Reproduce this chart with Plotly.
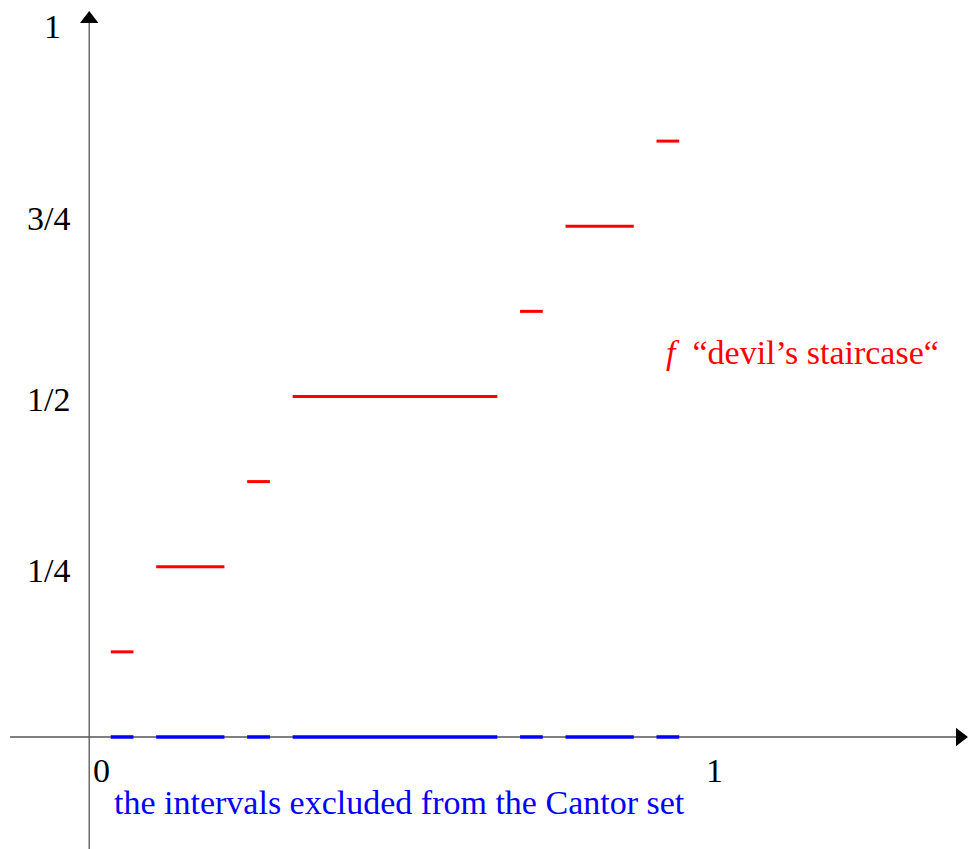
import plotly.graph_objects as go

# Data: intervals removed from [0,1] in the first three steps of the Cantor construction
interval_start = [1/27, 3/27, 7/27, 9/27, 19/27, 21/27, 25/27]
interval_end = [2/27, 6/27, 8/27, 18/27, 20/27, 24/27, 26/27]
staircase_value = [1/8, 2/8, 3/8, 4/8, 5/8, 6/8, 7/8]
y_tick_values = [1/4, 1/2, 3/4]
y_tick_labels = ["1/4", "1/2", "3/4"]

FONT = "Liberation Serif"
FS = 34

def seg_xy(starts, ends, ys):
    xs, yy = [], []
    for a, b, y in zip(starts, ends, ys):
        xs += [a, b, None]
        yy += [y, y, None]
    return xs, yy

fig = go.Figure()

# axes lines
fig.add_shape(type="line", x0=-0.127, y0=0, x1=1.42, y1=0,
              line=dict(color="#555555", width=1.3), layer="below")
fig.add_shape(type="line", x0=0.002, y0=-0.2, x1=0.002, y1=1.05,
              line=dict(color="#555555", width=1.3), layer="below")
# arrow heads
fig.add_trace(go.Scatter(x=[1.4202], y=[0], mode="markers",
                         marker=dict(symbol="triangle-right", size=16, color="black"),
                         cliponaxis=False, hoverinfo="skip", showlegend=False))
fig.add_trace(go.Scatter(x=[0.002], y=[1.0543], mode="markers",
                         marker=dict(symbol="triangle-up", size=16, color="black"),
                         cliponaxis=False, hoverinfo="skip", showlegend=False))

# blue excluded intervals
bx, by = seg_xy(interval_start, interval_end, [0] * len(interval_start))
fig.add_trace(go.Scatter(x=bx, y=by, mode="lines",
                         line=dict(color="#0000ff", width=3.5),
                         hoverinfo="skip", showlegend=False))
# red staircase
rx, ry = seg_xy(interval_start, interval_end, staircase_value)
fig.add_trace(go.Scatter(x=rx, y=ry, mode="lines",
                         line=dict(color="#ff0000", width=3),
                         hoverinfo="skip", showlegend=False))

label_dy = {0.25: -0.006, 0.5: -0.004, 0.75: 0.011}
ann = []
ann.append(dict(x=-0.0586, y=1.0426, text="1", showarrow=False,
                font=dict(family=FONT, size=FS, color="black")))
for v, t in zip(y_tick_values, y_tick_labels):
    ann.append(dict(x=-0.0651, y=v + label_dy[v], text=t, showarrow=False,
                    font=dict(family=FONT, size=FS, color="black")))
ann.append(dict(x=0.0212, y=-0.0485, text="0", showarrow=False,
                font=dict(family=FONT, size=FS, color="black")))
ann.append(dict(x=1.0212, y=-0.0485, text="1", showarrow=False,
                font=dict(family=FONT, size=FS, color="black")))
ann.append(dict(x=0.5081, y=-0.0969, text="the intervals excluded from the Cantor set",
                showarrow=False, font=dict(family=FONT, size=FS, color="#0000ff")))
ann.append(dict(x=1.1645, y=0.5639, text="<i>f</i>  \u201cdevil\u2019s staircase\u201c",
                showarrow=False, font=dict(family=FONT, size=FS, color="#ff0000")))

fig.update_layout(
    width=969, height=849,
    margin=dict(l=0, r=0, t=0, b=0),
    paper_bgcolor="white", plot_bgcolor="white",
    xaxis=dict(range=[-0.1433, 1.4349], visible=False, fixedrange=True),
    yaxis=dict(range=[-0.1645, 1.0822], visible=False, fixedrange=True),
    annotations=ann,
    showlegend=False,
    hovermode=False,
)

fig.write_html("out.html",
               config={"displayModeBar": False, "staticPlot": True},
               post_script="document.body.style.margin='0';document.body.style.overflow='hidden';")
